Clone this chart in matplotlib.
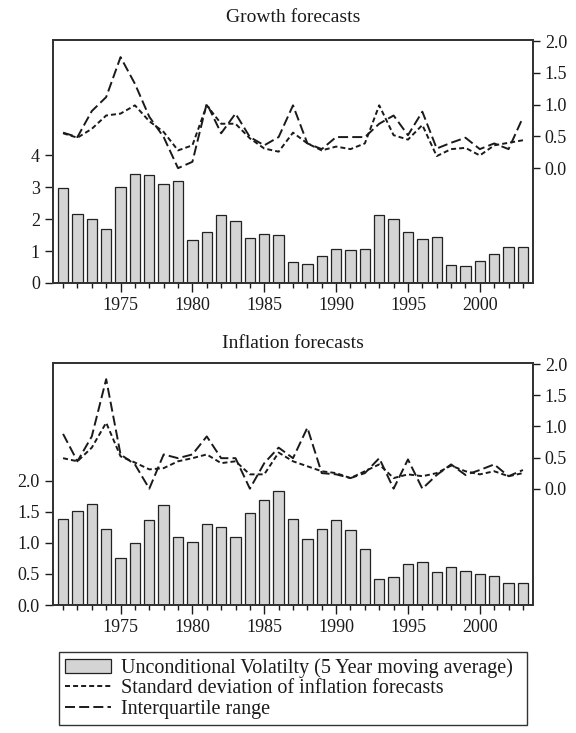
import matplotlib
matplotlib.use("Agg")
import matplotlib.pyplot as plt
from matplotlib.ticker import MultipleLocator, FormatStrFormatter
from matplotlib.patches import Patch
from matplotlib.lines import Line2D

years = list(range(1971, 2004))

# growth forecasts
growth_vol = [2.97, 2.17, 2.01, 1.69, 3.00, 3.41, 3.38, 3.09, 3.20, 1.34, 1.59,
              2.14, 1.94, 1.41, 1.54, 1.50, 0.67, 0.59, 0.84, 1.07, 1.03, 1.05,
              2.14, 2.00, 1.59, 1.38, 1.44, 0.56, 0.53, 0.68, 0.90, 1.14, 1.13]
growth_std = [0.55, 0.48, 0.62, 0.83, 0.86, 0.99, 0.74, 0.57, 0.28, 0.36, 0.99,
              0.70, 0.70, 0.47, 0.31, 0.26, 0.56, 0.39, 0.28, 0.34, 0.30, 0.39,
              0.99, 0.52, 0.45, 0.68, 0.19, 0.30, 0.32, 0.20, 0.36, 0.40, 0.44]
growth_iqr = [0.56, 0.49, 0.90, 1.12, 1.75, 1.33, 0.81, 0.49, 0.00, 0.10, 1.02,
              0.55, 0.86, 0.49, 0.36, 0.49, 0.99, 0.39, 0.30, 0.49, 0.49, 0.49,
              0.70, 0.83, 0.52, 0.89, 0.31, 0.40, 0.48, 0.30, 0.39, 0.30, 0.80]

# inflation forecasts
infl_vol = [1.38, 1.52, 1.62, 1.23, 0.76, 1.00, 1.37, 1.61, 1.10, 1.01, 1.31,
            1.26, 1.10, 1.48, 1.69, 1.84, 1.38, 1.07, 1.22, 1.37, 1.21, 0.91,
            0.42, 0.45, 0.66, 0.70, 0.53, 0.61, 0.55, 0.50, 0.46, 0.36, 0.35]
infl_std = [0.49, 0.44, 0.66, 1.06, 0.52, 0.42, 0.31, 0.33, 0.44, 0.49, 0.55,
            0.41, 0.44, 0.23, 0.23, 0.58, 0.44, 0.36, 0.28, 0.25, 0.17, 0.28,
            0.39, 0.17, 0.23, 0.20, 0.25, 0.37, 0.28, 0.23, 0.28, 0.20, 0.25]
infl_iqr = [0.88, 0.44, 0.84, 1.76, 0.55, 0.39, 0.00, 0.55, 0.49, 0.55, 0.84,
            0.49, 0.49, 0.00, 0.41, 0.66, 0.49, 0.98, 0.25, 0.23, 0.17, 0.25,
            0.49, 0.00, 0.47, 0.00, 0.22, 0.39, 0.22, 0.30, 0.39, 0.20, 0.30]

labels = ["Unconditional Volatilty (5 Year moving average)",
          "Standard deviation of inflation forecasts",
          "Interquartile range"]

plt.rcParams['font.family'] = ['Liberation Serif', 'DejaVu Serif']
plt.rcParams['lines.scale_dashes'] = False

INK = '#1a1a1a'
BARC = '#d4d4d4'
SHORT = (3.6, 2.2)
LONG = (7.2, 3.0)
FS = 13


def draw_panel(ax, title, vol, std, iqr, left_top, left_ticks, left_fmt, right_bottom, pad):
    ax.bar(years, vol, width=0.72, color=BARC, edgecolor='#222222', linewidth=0.9)
    ax.set_xlim(1970.3, 2003.7)
    ax.set_ylim(0, left_top)
    ax.set_yticks(left_ticks)
    ax.yaxis.set_major_formatter(FormatStrFormatter(left_fmt))
    ax.xaxis.set_major_locator(MultipleLocator(5))
    ax.xaxis.set_minor_locator(MultipleLocator(1))
    ax.tick_params(axis='x', which='major', length=6.5, width=1, labelsize=FS, colors=INK)
    ax.tick_params(axis='x', which='minor', length=3.6, width=1, colors=INK)
    ax.tick_params(axis='y', length=6, width=1, labelsize=FS, colors=INK)
    for s in ax.spines.values():
        s.set_linewidth(1.3)
        s.set_color('#333333')
    ax.set_title(title, fontsize=14, color=INK, pad=pad)

    ax2 = ax.twinx()
    ax2.plot(years, std, color=INK, lw=1.4, dashes=SHORT)
    ax2.plot(years, iqr, color=INK, lw=1.4, dashes=LONG)
    ax2.set_ylim(right_bottom, 2.02)
    ax2.set_yticks([0, 0.5, 1.0, 1.5, 2.0])
    ax2.yaxis.set_major_formatter(FormatStrFormatter('%.1f'))
    ax2.tick_params(axis='y', length=5, width=1, labelsize=FS, colors=INK)
    for s in ax2.spines.values():
        s.set_linewidth(1.3)
        s.set_color('#333333')


fig = plt.figure(figsize=(5.76, 7.33), dpi=100)
ax_top = fig.add_axes([53 / 576, 1 - 283 / 733, 480 / 576, 243 / 733])
ax_bot = fig.add_axes([53 / 576, 1 - 605 / 733, 480 / 576, 242 / 733])

draw_panel(ax_top, "Growth forecasts", growth_vol, growth_std, growth_iqr,
           7.6, [0, 1, 2, 3, 4], '%d', -1.81, 13)
draw_panel(ax_bot, "Inflation forecasts", infl_vol, infl_std, infl_iqr,
           3.9, [0, 0.5, 1.0, 1.5, 2.0], '%.1f', -1.87, 11)

handles = [Patch(facecolor=BARC, edgecolor='#222222', linewidth=0.9),
           Line2D([], [], color=INK, lw=1.4, dashes=SHORT),
           Line2D([], [], color=INK, lw=1.4, dashes=LONG)]
leg = fig.legend(handles, labels, loc='upper left',
                 bbox_to_anchor=(59 / 576, 0, 468 / 576, 1 - 652 / 733),
                 mode='expand', borderaxespad=0, fancybox=False,
                 edgecolor='#333333', framealpha=1, fontsize=14.5,
                 handlelength=2.3, handletextpad=0.5, labelspacing=0.08,
                 borderpad=0.3)
leg.get_frame().set_linewidth(1.0)
for t in leg.get_texts():
    t.set_color(INK)

fig.savefig("out.png", dpi=100)
